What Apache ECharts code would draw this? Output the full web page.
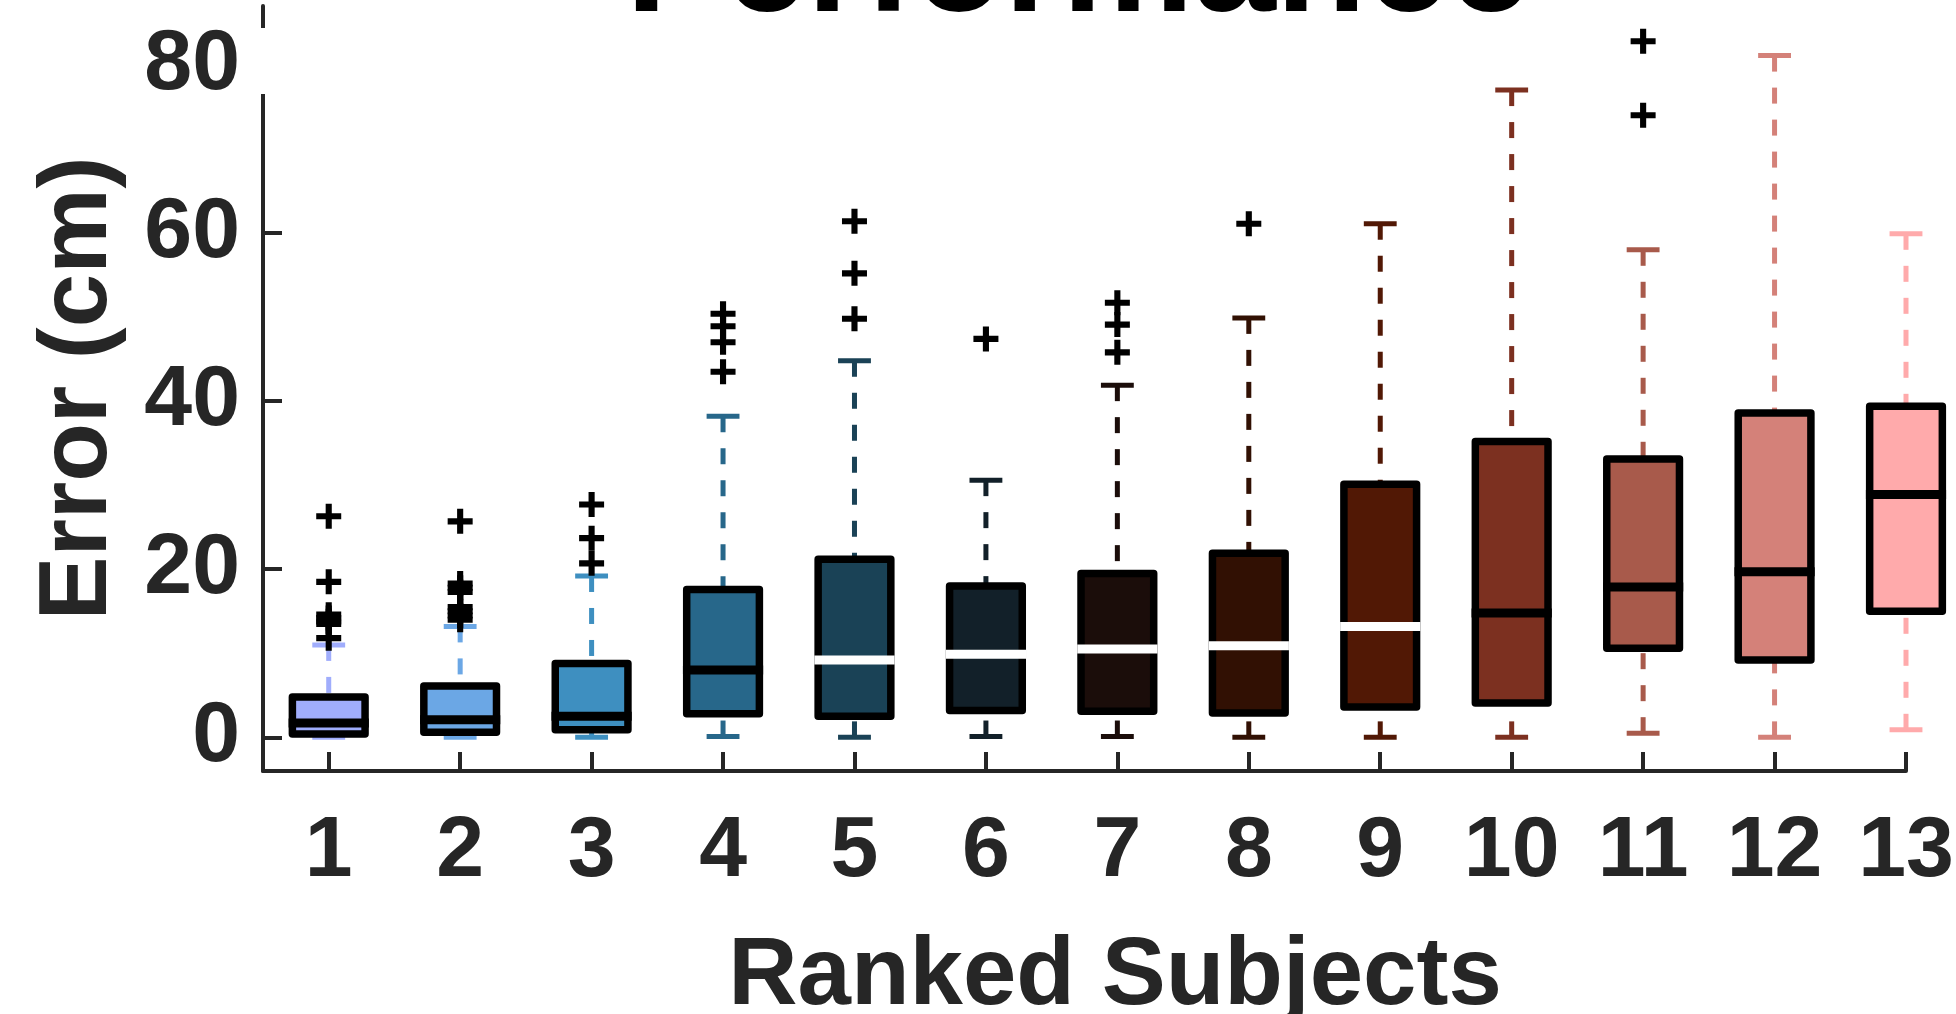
<!DOCTYPE html>
<html>
<head>
<meta charset="utf-8">
<title>Performance</title>
<script src="https://cdn.jsdelivr.net/npm/echarts@6/dist/echarts.min.js"></script>
<style>
  html, body { margin: 0; padding: 0; background: #fff; }
  #chart { width: 1956px; height: 1014px; }
</style>
</head>
<body>
<div id="chart"></div>
<script>
// ---------------------------- data -----------------------------
var subjects = [1, 2, 3, 4, 5, 6, 7, 8, 9, 10, 11, 12, 13];

var lowerWhisker = [0, 0, 0, 0.1, 0, 0.1, 0.1, 0, 0, 0, 0.5, 0, 0.9];
var q1 = [0.4, 0.6, 0.9, 2.8, 2.5, 3.2, 3.1, 2.9, 3.6, 4.1, 10.6, 9.2, 15.0];
var median = [1.7, 2.1, 2.5, 8.0, 9.2, 9.9, 10.5, 10.9, 13.2, 14.8, 17.9, 19.7, 28.9];
var q3 = [4.8, 6.1, 8.8, 17.6, 21.2, 18.0, 19.5, 21.9, 30.1, 35.2, 33.1, 38.6, 39.4];
var upperWhisker = [11.0, 13.2, 19.2, 38.2, 44.8, 30.6, 41.9, 49.9, 61.1, 77.0, 58.0, 81.1, 59.9];

var outliers = [
  [26.3, 18.5, 14.6, 14.2, 13.8, 13.5, 11.8],
  [25.7, 18.3, 17.8, 17.3, 15.5, 15.0, 14.5, 14.0],
  [27.7, 23.7, 20.7],
  [50.4, 48.9, 47.0, 43.5],
  [61.4, 55.2, 49.8],
  [47.4],
  [51.7, 49.1, 45.8],
  [61.1],
  [],
  [],
  [82.8, 74.0],
  [],
  []
];

var yTicks = [0, 20, 40, 60, 80];

// ---------------------------- style ----------------------------
var boxColors = [
  '#a0adfc', '#6ba7e5', '#3e8fc0', '#27678a', '#1a4256', '#122029', '#1b0d0a',
  '#311003', '#511805', '#7c3020', '#a85a4b', '#d48179', '#ffaaab'
];
var medianColors = [
  '#000', '#000', '#000', '#000', '#fff', '#fff', '#fff',
  '#fff', '#fff', '#000', '#000', '#000', '#000'
];

var FONT = '"Liberation Sans", Arial, Helvetica, sans-serif';
var AXIS_COLOR = '#262626';
var BOX_W = 0.553;   // box width, in category units
var CAP_W = 0.25;    // whisker cap width
var BORDER = 7.5;

var boxData = subjects.map(function (s, i) {
  return [s, lowerWhisker[i], q1[i], median[i], q3[i], upperWhisker[i]];
});

var outlierData = [];
outliers.forEach(function (list, i) {
  list.forEach(function (v) { outlierData.push([subjects[i], v]); });
});

// ---------------------------- render ---------------------------
function renderBox(params, api) {
  var x = api.value(0);
  var lo = api.coord([x, api.value(1)]);
  var p1 = api.coord([x, api.value(2)]);
  var pm = api.coord([x, api.value(3)]);
  var p3 = api.coord([x, api.value(4)]);
  var hi = api.coord([x, api.value(5)]);
  var cx = p1[0];
  var bw = api.size([BOX_W, 0])[0];
  var cw = api.size([CAP_W, 0])[0];
  var col = boxColors[params.dataIndex];
  var dash = { stroke: col, lineWidth: 5, lineDash: [16, 16], fill: null };
  var solid = { stroke: col, lineWidth: 5, fill: null };

  return {
    type: 'group',
    children: [
      { type: 'line', shape: { x1: cx, y1: hi[1], x2: cx, y2: p3[1] }, style: dash },
      { type: 'line', shape: { x1: cx, y1: lo[1], x2: cx, y2: p1[1] }, style: dash },
      { type: 'line', shape: { x1: cx - cw / 2, y1: hi[1], x2: cx + cw / 2, y2: hi[1] }, style: solid },
      { type: 'line', shape: { x1: cx - cw / 2, y1: lo[1], x2: cx + cw / 2, y2: lo[1] }, style: solid },
      {
        type: 'rect',
        shape: { x: cx - bw / 2, y: p3[1], width: bw, height: p1[1] - p3[1] },
        style: { fill: col, stroke: '#000', lineWidth: BORDER, lineJoin: 'round' }
      },
      {
        type: 'line',
        shape: { x1: cx - bw / 2 - BORDER / 2, y1: pm[1], x2: cx + bw / 2 + BORDER / 2, y2: pm[1] },
        style: { stroke: medianColors[params.dataIndex], lineWidth: 9, fill: null }
      }
    ]
  };
}

var chart = echarts.init(document.getElementById('chart'), null, { renderer: 'canvas' });

var option = {
  backgroundColor: '#fff',
  animation: false,
  title: {
    text: 'Performance',
    left: 626,
    top: -104,
    padding: 0,
    textStyle: { fontFamily: FONT, fontSize: 148, fontWeight: 'bold', color: '#000' }
  },
  grid: {
    left: 263, right: 50, top: 6, bottom: 243,
    containLabel: false,
    outerBoundsMode: 'none'
  },
  xAxis: {
    type: 'value',
    min: 0.5,
    max: 13,
    name: 'Ranked Subjects',
    nameLocation: 'middle',
    nameGap: 159,
    nameMoveOverlap: false,
    nameTextStyle: {
      fontFamily: FONT, fontSize: 96, fontWeight: 'bold', color: AXIS_COLOR,
      padding: [0, 0, 0, 61]
    },
    splitLine: { show: false },
    axisLine: { show: true, onZero: false, lineStyle: { color: AXIS_COLOR, width: 4 } },
    axisTick: {
      show: true, inside: true, length: 19,
      customValues: subjects,
      lineStyle: { color: AXIS_COLOR, width: 4 }
    },
    axisLabel: {
      customValues: subjects,
      margin: 38,
      fontFamily: FONT, fontSize: 86, fontWeight: 'bold', color: AXIS_COLOR
    }
  },
  yAxis: {
    type: 'value',
    min: -4,
    max: 87,
    name: 'Error (cm)',
    nameLocation: 'middle',
    nameGap: 135,
    nameMoveOverlap: false,
    nameTextStyle: { fontFamily: FONT, fontSize: 96, fontWeight: 'bold', color: AXIS_COLOR },
    splitLine: { show: false },
    axisLine: { show: true, onZero: false, lineStyle: { color: AXIS_COLOR, width: 4 } },
    axisTick: {
      show: true, inside: true, length: 19,
      customValues: yTicks,
      lineStyle: { color: AXIS_COLOR, width: 4 }
    },
    axisLabel: {
      customValues: yTicks,
      margin: 23,
      fontFamily: FONT, fontSize: 86, fontWeight: 'bold', color: AXIS_COLOR
    }
  },
  graphic: [
    {
      // the reference's axis line is broken around the top label
      type: 'rect', z: 100,
      shape: { x: 256, y: 28, width: 34, height: 66 },
      style: { fill: '#fff' }
    }
  ],
  series: [
    {
      type: 'custom',
      name: 'Error',
      renderItem: renderBox,
      clip: false,
      encode: { x: 0, y: [1, 2, 3, 4, 5] },
      data: boxData,
      z: 2
    },
    {
      type: 'scatter',
      name: 'Outliers',
      symbol: 'path://M-1.1,-4.5H1.1V-1.1H4.5V1.1H1.1V4.5H-1.1V1.1H-4.5V-1.1H-1.1Z',
      symbolSize: 25,
      itemStyle: { color: '#000', opacity: 1 },
      data: outlierData,
      z: 3
    }
  ]
};

chart.setOption(option);
</script>
</body>
</html>
